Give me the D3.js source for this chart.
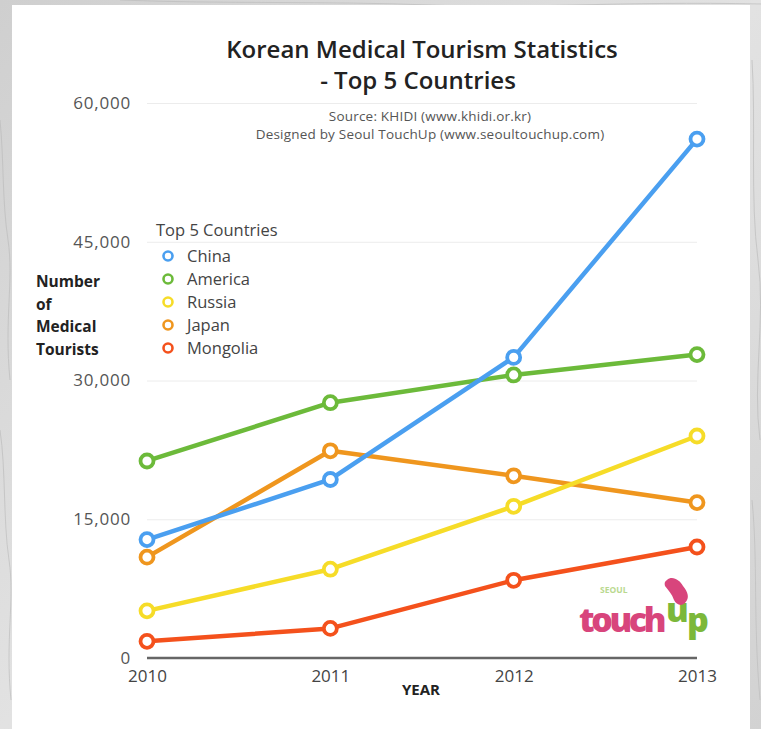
<!DOCTYPE html>
<html>
<head>
<meta charset="utf-8">
<script src="https://cdn.jsdelivr.net/npm/d3@7"></script>
<style>
  html, body { margin: 0; padding: 0; background: #d6d6d6; }
  svg { display: block; }
  text { font-family: "Open Sans", Lato, sans-serif; }
</style>
</head>
<body>
<svg id="chart" width="761" height="729"></svg>
<script>
// Visitors to Korea for medical treatment, by country of origin
const years = [2010, 2011, 2012, 2013];
const countries = ["China", "America", "Russia", "Japan", "Mongolia"];
const china    = [12800, 19300, 32500, 56100];
const america  = [21300, 27600, 30600, 32800];
const russia   = [5100, 9600, 16400, 24000];
const japan    = [10900, 22400, 19700, 16800];
const mongolia = [1800, 3200, 8400, 12000];
const yTicks = [0, 15000, 30000, 45000, 60000];
const colors = ["#4a9ff0", "#6cba3a", "#f6dc28", "#ef961e", "#f4511c"];

const seriesValues = [china, america, russia, japan, mongolia];
const series = countries.map((name, i) => ({
  name, color: colors[i],
  points: years.map((yr, j) => ({ year: yr, value: seriesValues[i][j] }))
}));

const svg = d3.select("#chart");

// marble-ish backdrop and the white card
const defs = svg.append("defs");
const bg = defs.append("linearGradient").attr("id", "bg")
  .attr("x1", 0).attr("y1", 0).attr("x2", 1).attr("y2", 1);
bg.append("stop").attr("offset", 0).attr("stop-color", "#cfcfcf");
bg.append("stop").attr("offset", 0.5).attr("stop-color", "#e2e2e2");
bg.append("stop").attr("offset", 1).attr("stop-color", "#d2d2d2");
svg.append("rect").attr("width", 761).attr("height", 729).attr("fill", "url(#bg)");
const veins = svg.append("g").attr("fill", "none").attr("stroke", "#bdbdbd").attr("stroke-width", 1).attr("opacity", 0.7);
veins.append("path").attr("d", "M0,120 C4,160 2,200 8,240 S4,320 10,380");
veins.append("path").attr("d", "M0,430 C6,470 3,520 9,560 S5,640 11,700");
veins.append("path").attr("d", "M752,60 C756,120 750,200 758,260 S752,380 760,440");
veins.append("path").attr("d", "M752,500 C758,560 753,620 760,700");
veins.append("path").attr("d", "M120,0 C220,4 330,1 430,5 S620,1 761,4");
svg.append("rect").attr("x", 12).attr("y", 5).attr("width", 738).attr("height", 724).attr("fill", "#ffffff");

const x = d3.scaleLinear().domain([2010, 2013]).range([147, 697]);
const y = d3.scaleLinear().domain([0, 60000]).range([658, 103]);

// horizontal gridlines
const yAxis = d3.axisLeft(y).tickValues(yTicks).tickSize(-(x.range()[1] - x.range()[0]))
  .tickPadding(16).tickFormat(d3.format(","));
const gy = svg.append("g").attr("transform", `translate(${x.range()[0]},0)`).call(yAxis);
gy.select(".domain").remove();
gy.selectAll(".tick line").attr("stroke", "#ececec").attr("stroke-width", 1);
gy.selectAll(".tick text").attr("fill", "#555").attr("font-size", 17).attr("x", -16)
  .attr("letter-spacing", 0.8);

// baseline
svg.append("line").attr("x1", x(2010)).attr("x2", x(2013)).attr("y1", y(0)).attr("y2", y(0))
  .attr("stroke", "#666").attr("stroke-width", 2.5);

// year labels
const xAxis = d3.axisBottom(x).tickValues(years).tickFormat(d3.format("d")).tickSize(0).tickPadding(12);
const gx = svg.append("g").attr("transform", `translate(0,${y(0)})`).call(xAxis);
gx.select(".domain").remove();
gx.selectAll(".tick text").attr("fill", "#444").attr("font-size", 17);

svg.append("text").attr("x", 421).attr("y", 695).attr("text-anchor", "middle")
  .attr("font-weight", 700).attr("font-size", 15).attr("fill", "#222").text("YEAR");

// y title
["Number", "of", "Medical", "Tourists"].forEach((t, i) => {
  svg.append("text").attr("x", 36).attr("y", 287 + i * 22.5)
    .attr("font-weight", 700).attr("font-size", 15.5).attr("fill", "#222").text(t);
});

// title
svg.append("text").attr("x", 422).attr("y", 58).attr("text-anchor", "middle")
  .attr("font-weight", 600).attr("font-size", 24).attr("fill", "#222").text("Korean Medical Tourism Statistics");
svg.append("text").attr("x", 418).attr("y", 89).attr("text-anchor", "middle")
  .attr("font-weight", 600).attr("font-size", 24).attr("fill", "#222").text("- Top 5 Countries");
svg.append("text").attr("x", 430).attr("y", 121).attr("text-anchor", "middle")
  .attr("font-size", 13.5).attr("letter-spacing", 0.2).attr("fill", "#555").text("Source: KHIDI (www.khidi.or.kr)");
svg.append("text").attr("x", 430).attr("y", 139).attr("text-anchor", "middle")
  .attr("font-size", 13.5).attr("letter-spacing", 0.2).attr("fill", "#555").text("Designed by Seoul TouchUp (www.seoultouchup.com)");

// series lines and markers
const line = d3.line().x(d => x(d.year)).y(d => y(d.value));
const gs = svg.append("g");
series.slice().reverse().forEach(s => {
  gs.append("path").datum(s.points).attr("d", line)
    .attr("fill", "none").attr("stroke", s.color).attr("stroke-width", 4.5)
    .attr("stroke-linejoin", "round");
});
series.slice().reverse().forEach(s => {
  gs.selectAll(null).data(s.points).join("circle")
    .attr("cx", d => x(d.year)).attr("cy", d => y(d.value)).attr("r", 6.5)
    .attr("fill", "#fff").attr("stroke", s.color).attr("stroke-width", 3.8);
});

// legend
const lg = svg.append("g");
lg.append("text").attr("x", 156).attr("y", 236).attr("font-size", 16.5).attr("fill", "#444").text("Top 5 Countries");
series.forEach((s, i) => {
  const cy = 256 + i * 23;
  lg.append("circle").attr("cx", 168).attr("cy", cy).attr("r", 4.5)
    .attr("fill", "#fff").attr("stroke", s.color).attr("stroke-width", 2.6);
  lg.append("text").attr("x", 187).attr("y", cy + 5.5).attr("font-size", 16.5).attr("fill", "#444").text(s.name);
});

// Seoul TouchUp logo
const logo = svg.append("g");
logo.append("text").attr("x", 600).attr("y", 593).attr("font-size", 8.5).attr("font-weight", 700)
  .attr("fill", "#b9d98f").text("SEOUL");
const word = logo.append("text").attr("font-weight", 800).attr("font-size", 34);
word.append("tspan").attr("x", 579).attr("y", 632)
  .attr("fill", "#d8457c").attr("letter-spacing", -1.5).attr("textLength", 86).text("touch");
word.append("tspan").attr("x", 666).attr("y", 622).attr("fill", "#7cb83a").text("u");
word.append("tspan").attr("x", 687).attr("y", 632).attr("fill", "#7cb83a").text("p");
logo.append("path")
  .attr("d", "M667,580 C672,575 680,580 683,586 C688,592 690,598 685,603 C681,607 676,604 674,600 C672,594 668,590 665,586 C664,583 665,581 667,580 Z")
  .attr("fill", "#d8457c");
</script>
</body>
</html>
